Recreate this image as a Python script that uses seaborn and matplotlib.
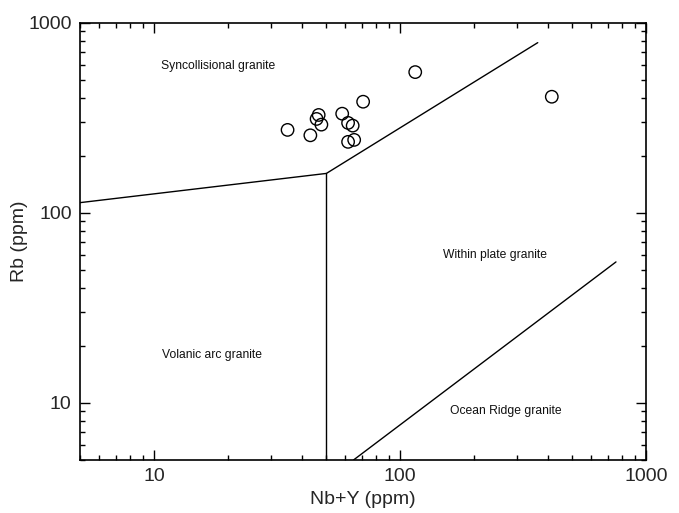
import numpy as np
import pandas as pd
import matplotlib
matplotlib.use("Agg")
import matplotlib.pyplot as plt
import seaborn as sns
from matplotlib.ticker import LogLocator, NullFormatter, FixedLocator, FixedFormatter

# Sample data (Nb+Y vs Rb, ppm)
nb_y = [34.9, 43.2, 46.7, 45.8, 47.9, 58.2, 61.5, 64.2, 61.5, 65.1, 70.8, 115.3, 414.0]
rb = [272.8, 255.5, 326.9, 311.5, 290.8, 332.0, 296.9, 287.3, 236.0, 241.7, 383.8, 549.5, 407.7]

# Discrimination boundaries (Pearce et al. 1984)
b1_x = [5, 50.2, 363]          # VAG / syn-COLG then syn-COLG / WPG
b1_y = [113, 161, 785]
b2_x = [50.2, 50.2]            # VAG / WPG
b2_y = [161, 5]
b3_x = [64.7, 755]             # WPG / ORG
b3_y = [5, 55.1]

field_labels = ["Syncollisional granite", "Within plate granite",
                "Volanic arc granite", "Ocean Ridge granite"]
field_x = [18.2, 243, 17.2, 269]
field_y = [590, 59.8, 17.9, 9.1]

tick_vals = [10, 100, 1000]
tick_text = ["10", "100", "1000"]

sns.set_theme(style="white")
plt.rcParams['font.family'] = ['Liberation Sans', 'DejaVu Sans']

fig = plt.figure(figsize=(6.79, 5.13), dpi=100)
ax = fig.add_axes([0.1178, 0.1033, 0.8336, 0.8525])

df = pd.DataFrame({"Nb+Y": nb_y, "Rb": rb})
sns.scatterplot(data=df, x="Nb+Y", y="Rb", ax=ax, marker="o", s=80,
                facecolor="none", edgecolor="black", linewidth=1.0, zorder=3)

for bx, by in [(b1_x, b1_y), (b2_x, b2_y), (b3_x, b3_y)]:
    ax.plot(bx, by, color="black", linewidth=1.0, zorder=2)

for t, x, y in zip(field_labels, field_x, field_y):
    ax.text(x, y, t, ha="center", va="center", fontsize=8.7, color="#111111")

ax.set_xscale("log")
ax.set_yscale("log")
ax.set_xlim(5, 1000)
ax.set_ylim(5, 1000)

for axis in (ax.xaxis, ax.yaxis):
    axis.set_major_locator(FixedLocator(tick_vals))
    axis.set_major_formatter(FixedFormatter(tick_text))
    axis.set_minor_locator(LogLocator(base=10, subs=np.arange(2, 10), numticks=20))
    axis.set_minor_formatter(NullFormatter())

ax.tick_params(which="both", direction="in", top=True, right=True,
               bottom=True, left=True, color="black", width=1.0)
ax.tick_params(which="major", length=7.5, labelsize=14, pad=6)
ax.tick_params(which="minor", length=3.8)

for sp in ax.spines.values():
    sp.set_color("black")
    sp.set_linewidth(1.2)

ax.set_xlabel("Nb+Y (ppm)", fontsize=14, labelpad=4)
ax.set_ylabel("Rb (ppm)", fontsize=14, labelpad=0)

fig.savefig("out.png", dpi=100, facecolor="white")
